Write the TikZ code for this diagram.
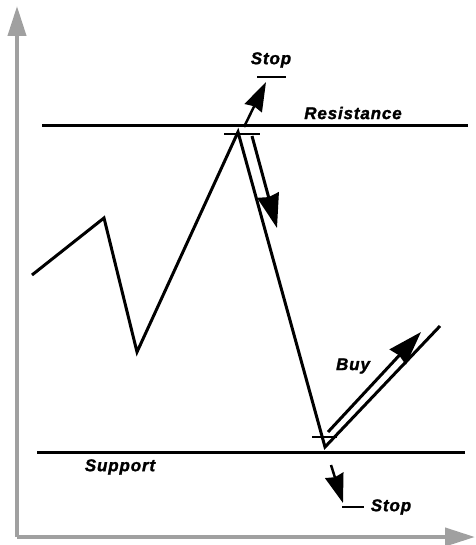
\documentclass[tikz,border=0pt]{standalone}
\usepackage{fontspec}
\setmainfont{Liberation Sans}
\newfontfamily\lblfont{Liberation Sans Bold Italic}[FakeBold=1.5,LetterSpace=5]
\usetikzlibrary{arrows.meta}
\definecolor{axisgray}{RGB}{160,160,160}
\tikzset{
  axis/.style={draw=axisgray,line width=4pt,-{Triangle[length=30pt,width=18pt]}},
  price/.style={draw=black,line width=3pt,line join=miter,line cap=butt},
  level/.style={draw=black,line width=3pt},
  bar/.style={draw=black,line width=2.5pt},
  lbl/.style={font=\fontsize{17}{17}\lblfont,inner sep=0pt},
  bigarrow/.style={draw=black,line width=3pt,-{Stealth[length=34pt,width=22pt,inset=2pt]}},
  smallarrow/.style={draw=black,line width=2.5pt,-{Stealth[length=29pt,width=19pt,inset=2pt]}}
}
\begin{document}
\begin{tikzpicture}[x=1pt,y=-1pt]
\useasboundingbox (0,0) rectangle (475,545);
% axes
\coordinate (O) at (17,537);
\coordinate (ytop) at (17,6);
\coordinate (xend) at (475,537);
\draw[axis] (O) -- (ytop);
\draw[axis] (O) -- (xend);
% resistance and support
\coordinate (r1) at (42,126);
\coordinate (r2) at (468,126);
\coordinate (s1) at (37,452);
\coordinate (s2) at (465,452);
\draw[level] (r1) -- (r2);
\draw[level] (s1) -- (s2);
\node[lbl] (res) at (353,113) {Resistance};
\node[lbl] (sup) at (120,467) {Support};
% price path
\coordinate (p0) at (32,275);
\coordinate (p1) at (104,218);
\coordinate (p2) at (137,352);
\coordinate (p3) at (238,132);
\coordinate (p4) at (325,447);
\coordinate (p5) at (440,326);
\draw[price] (p0) -- (p1) -- (p2) -- (p3) -- (p4) -- (p5);
% peak stop bar and arrows
\coordinate (pb1) at (224,134);
\coordinate (pb2) at (260,134);
\draw[bar] (pb1) -- (pb2);
\coordinate (da1) at (252,136);
\coordinate (da2) at (277,228);
\draw[bigarrow] (da1) -- (da2);
\coordinate (ua1) at (244,127);
\coordinate (ua2) at (266,82);
\draw[smallarrow] (ua1) -- (ua2);
\coordinate (tb1) at (257,77);
\coordinate (tb2) at (286,77);
\draw[bar] (tb1) -- (tb2);
\node[lbl] (stoptop) at (271,60) {Stop};
% bottom
\coordinate (bb1) at (312,437);
\coordinate (bb2) at (337,437);
\draw[bar] (bb1) -- (bb2);
\coordinate (ba1) at (328,432);
\coordinate (ba2) at (421,332);
\draw[bigarrow] (ba1) -- (ba2);
\node[lbl] (buy) at (353,366) {Buy};
\coordinate (sa1) at (331,465);
\coordinate (sa2) at (343,503);
\draw[smallarrow] (sa1) -- (sa2);
\coordinate (sb1) at (342,507);
\coordinate (sb2) at (364,507);
\draw[bar] (sb1) -- (sb2);
\node[lbl] (stopbot) at (391,507) {Stop};
\end{tikzpicture}
\end{document}
